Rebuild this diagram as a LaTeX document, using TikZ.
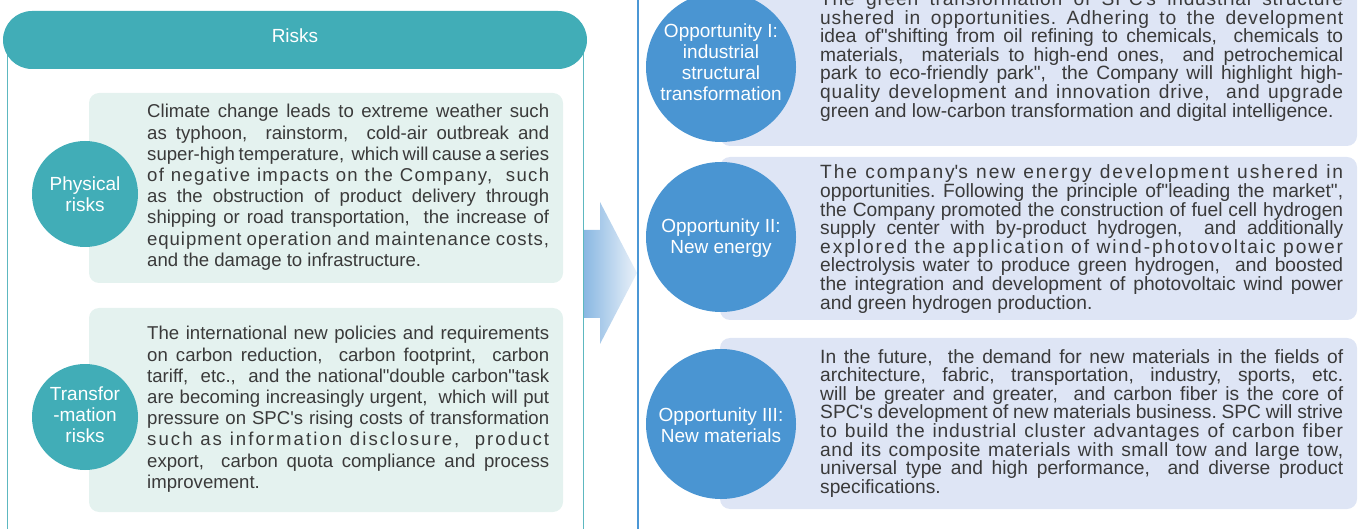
\documentclass[tikz,border=0pt]{standalone}
\usepackage{fontspec}
\setmainfont{Liberation Sans}
\frenchspacing

\definecolor{riskteal}{HTML}{41ADB7}
\definecolor{risklight}{HTML}{E4F2EF}
\definecolor{frameteal}{HTML}{5DB8C0}
\definecolor{oppblue}{HTML}{4A95D2}
\definecolor{opplight}{HTML}{DEE5F5}
\definecolor{lineblue}{HTML}{4B97D5}
\definecolor{arrowdark}{HTML}{88B7E2}
\definecolor{arrowlight}{HTML}{EAF1F9}
\definecolor{bodytext}{HTML}{3A3A3A}

\newcommand{\dq}{\textquotedbl}
\newcommand{\sq}{\textquotesingle}
\newcommand{\spaced}[2]{{\addfontfeatures{LetterSpace=#1}#2}}

\begin{document}
\begin{tikzpicture}[x=1pt,y=-1pt,
    risktext/.style={anchor=base west,inner sep=0pt,text width=402pt,align=justify,
      text=bodytext,font=\fontsize{18.6}{21.2}\selectfont},
    opptext/.style={anchor=base west,inner sep=0pt,text width=523pt,align=justify,
      text=bodytext,font=\fontsize{19.2}{18.6}\selectfont},
    circlabel/.style={inner sep=0pt,align=center,text=white,
      font=\fontsize{19}{21}\selectfont}]
      \useasboundingbox (0,0) rectangle (1363,529);
      \shade [left color=arrowdark, right color=arrowlight]
        (583,230) -- (600,230) -- (600,202) -- (637,273) -- (600,344) -- (600,318) -- (583,318) -- cycle;
      \draw [frameteal, line width=1pt] (7,40) -- (7,540);
      \draw [frameteal, line width=1pt] (583,40) -- (583,540);
      \draw [lineblue, line width=1.2pt] (638,-10) -- (638,540);
      \fill [riskteal, rounded corners=29pt] (3,11) rectangle (587,69); % Header pill.
      \node [circlabel] (risks-head) at (295,36) {Risks};
      \fill [risklight, rounded corners=10pt] (89,93) rectangle (563,283);
      \fill [risklight, rounded corners=10pt] (89,308) rectangle (563,512);
      \fill [riskteal] (85,194) circle (53);
      \fill [riskteal] (85,417) circle (53);
      \node [circlabel] (phys-lbl) at (85,194) {Physical\\risks};
      \node [circlabel] (trans-lbl) at (85,415) {Transfor\\-mation\\risks};
      \node [risktext] (phys-txt) at (147,118) {Climate change leads to extreme weather such\linebreak
        as typhoon,~ rainstorm,~ cold-air outbreak and\linebreak
        super-high temperature,~ which will cause a series\linebreak
        \spaced{7}{of negative impacts on the Company,~ such}\linebreak
        as the obstruction of product delivery through\linebreak
        shipping or road transportation,~ the increase of\linebreak
        \spaced{5}{equipment operation and maintenance costs,}\linebreak
        and the damage to infrastructure.};
      \node [risktext] (trans-txt) at (147,340) {The international new policies and requirements\linebreak
        on carbon reduction,~ carbon footprint,~ carbon\linebreak
        tariff,~ etc.,~ and the national\dq double carbon\dq task\linebreak
        are becoming increasingly urgent,~ which will put\linebreak
        pressure on SPC\sq s rising costs of transformation\linebreak
        \spaced{11}{such as information disclosure,~ product}\linebreak
        export,~ carbon quota compliance and process\linebreak
        improvement.};
      \fill [opplight, rounded corners=10pt] (720,-30) rectangle (1357,146);
      \fill [opplight, rounded corners=10pt] (720,157) rectangle (1357,320);
      \fill [opplight, rounded corners=10pt] (720,338) rectangle (1357,509);
      \fill [oppblue] (721,67) circle (75);
      \fill [oppblue] (721,237) circle (75);
      \fill [oppblue] (721,424) circle (75);
      \node [circlabel] (opp1-lbl) at (721,62) {Opportunity I:\\industrial\\structural\\transformation};
      \node [circlabel] (opp2-lbl) at (721,238) {Opportunity II:\\New energy};
      \node [circlabel] (opp3-lbl) at (721,425) {Opportunity III:\\New materials};
      \node [opptext] (opp1-txt) at (820,5.5) {\spaced{4}{The green transformation of SPC\sq s industrial structure}\linebreak
        \spaced{4}{ushered in opportunities. Adhering to the development}\linebreak
        idea of\dq shifting from oil refining to chemicals,~ chemicals to\linebreak
        materials,~ materials to high-end ones,~ and petrochemical\linebreak
        park to eco-friendly park\dq,~ the Company will highlight high-\linebreak
        \spaced{4}{quality development and innovation drive,~ and upgrade}\linebreak
        green and low-carbon transformation and digital intelligence.};
      \node [opptext] (opp2-txt) at (820,179) {\spaced{10}{The company\sq s new energy development ushered in}\linebreak
        opportunities. Following the principle of\dq leading the market\dq,\linebreak
        the Company promoted the construction of fuel cell hydrogen\linebreak
        supply center with by-product hydrogen,~ and additionally\linebreak
        \spaced{10}{explored the application of wind-photovoltaic power}\linebreak
        electrolysis water to produce green hydrogen,~ and boosted\linebreak
        the integration and development of photovoltaic wind power\linebreak
        and green hydrogen production.};
      \node [opptext] (opp3-txt) at (820,363) {In the future,~ the demand for new materials in the fields of\linebreak
        architecture,~ fabric,~ transportation,~ industry,~ sports,~ etc.\linebreak
        will be greater and greater,~ and carbon fiber is the core of\linebreak
        SPC\sq s development of new materials business. SPC will strive\linebreak
        \spaced{4}{to build the industrial cluster advantages of carbon fiber}\linebreak
        \spaced{3}{and its composite materials with small tow and large tow,}\linebreak
        universal type and high performance,~ and diverse product\linebreak
        specifications.};
\end{tikzpicture}
\end{document}
